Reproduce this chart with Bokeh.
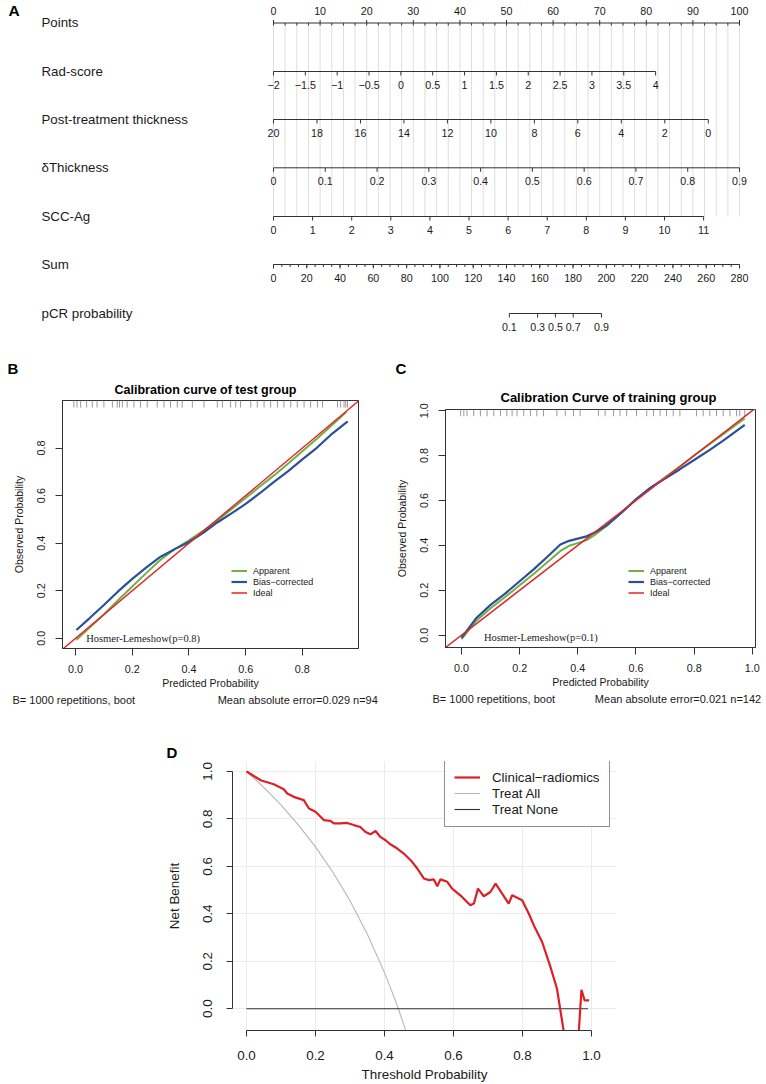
from bokeh.plotting import figure
from bokeh.layouts import column, row
from bokeh.models import Range1d, Legend, LegendItem, FixedTicker, PrintfTickFormatter, Title
from bokeh.core.properties import value
from bokeh.embed import file_html
from bokeh.resources import INLINE

FONT = "Liberation Sans"
SERIF = "Liberation Serif"

# ---------------- Panel A : nomogram data ----------------
points_ticks = [0, 10, 20, 30, 40, 50, 60, 70, 80, 90, 100]
rad_ticks = [-2, -1.5, -1, -0.5, 0, 0.5, 1, 1.5, 2, 2.5, 3, 3.5, 4]
rad_range = [-2, 4]
rad_points = [0, 82.0]
thick_ticks = [20, 18, 16, 14, 12, 10, 8, 6, 4, 2, 0]
thick_range = [20, 0]
thick_points = [0, 93.3]
dthick_ticks = [0, 0.1, 0.2, 0.3, 0.4, 0.5, 0.6, 0.7, 0.8, 0.9]
dthick_range = [0, 0.9]
dthick_points = [0, 100.0]
scc_ticks = [0, 1, 2, 3, 4, 5, 6, 7, 8, 9, 10, 11]
scc_range = [0, 11]
scc_points = [0, 92.3]
sum_ticks = [0, 20, 40, 60, 80, 100, 120, 140, 160, 180, 200, 220, 240, 260, 280]
sum_range = [0, 280]
sum_points = [0, 100.0]
pcr_ticks = [0.1, 0.3, 0.5, 0.7, 0.9]
pcr_total = [141.7, 158.7, 169.4, 180.1, 197.1]

# ---------------- Panel B : calibration, test group ----------------
b_app_x = [0.003, 0.05, 0.1, 0.15, 0.2, 0.25, 0.3, 0.35, 0.4, 0.45, 0.5, 0.55, 0.6, 0.65, 0.7, 0.75, 0.8, 0.85, 0.9, 0.955]
b_app_y = [-0.006, 0.045, 0.1, 0.16, 0.218, 0.275, 0.33, 0.375, 0.412, 0.452, 0.495, 0.543, 0.59, 0.638, 0.685, 0.735, 0.787, 0.838, 0.892, 0.952]
b_bc_x = [0.003, 0.05, 0.1, 0.15, 0.2, 0.25, 0.3, 0.35, 0.4, 0.45, 0.5, 0.55, 0.6, 0.65, 0.7, 0.75, 0.8, 0.85, 0.9, 0.96]
b_bc_y = [0.035, 0.085, 0.14, 0.197, 0.25, 0.298, 0.343, 0.375, 0.405, 0.443, 0.487, 0.525, 0.565, 0.61, 0.658, 0.703, 0.752, 0.8, 0.855, 0.912]
b_rug = [-0.006, 0.005, 0.018, 0.039, 0.059, 0.076, 0.1, 0.13, 0.147, 0.155, 0.165, 0.182, 0.206, 0.229,
         0.253, 0.288, 0.312, 0.335, 0.359, 0.376, 0.412, 0.453, 0.5, 0.518, 0.547, 0.565, 0.582, 0.618,
         0.641, 0.665, 0.688, 0.712, 0.735, 0.759, 0.782, 0.806, 0.829, 0.853, 0.871, 0.924, 0.935, 0.947, 0.953, 0.959]

# ---------------- Panel C : calibration, training group ----------------
c_app_x = [0.0, 0.05, 0.1, 0.15, 0.2, 0.25, 0.3, 0.34, 0.37, 0.4, 0.43, 0.46, 0.5, 0.55, 0.6, 0.65, 0.7, 0.75, 0.8, 0.85, 0.9, 0.974]
c_app_y = [-0.018, 0.063, 0.12, 0.17, 0.222, 0.275, 0.33, 0.375, 0.398, 0.41, 0.423, 0.448, 0.487, 0.545, 0.605, 0.655, 0.703, 0.75, 0.8, 0.848, 0.895, 0.965]
c_bc_x = [0.0, 0.05, 0.1, 0.15, 0.2, 0.25, 0.3, 0.34, 0.37, 0.4, 0.43, 0.46, 0.5, 0.55, 0.6, 0.65, 0.7, 0.75, 0.8, 0.85, 0.9, 0.974]
c_bc_y = [-0.012, 0.075, 0.135, 0.185, 0.24, 0.295, 0.355, 0.404, 0.42, 0.43, 0.44, 0.458, 0.49, 0.545, 0.605, 0.657, 0.697, 0.738, 0.78, 0.822, 0.866, 0.937]
c_rug = [-0.003, 0.008, 0.019, 0.042, 0.065, 0.088, 0.111, 0.134, 0.156, 0.174, 0.191, 0.214, 0.237, 0.259,
         0.282, 0.328, 0.357, 0.385, 0.408, 0.471, 0.494, 0.523, 0.545, 0.568, 0.602, 0.637, 0.66, 0.683,
         0.705, 0.728, 0.751, 0.808, 0.831, 0.854, 0.877, 0.9, 0.923, 0.946, 0.957, 0.974]

# ---------------- Panel D : decision curve ----------------
dca_thr = [0, 0.041, 0.079, 0.108, 0.118, 0.137, 0.166, 0.181, 0.2, 0.224, 0.243, 0.253, 0.272, 0.292,
           0.311, 0.33, 0.345, 0.359, 0.374, 0.388, 0.403, 0.417, 0.437, 0.456, 0.476, 0.495, 0.514,
           0.529, 0.543, 0.553, 0.562, 0.582, 0.596, 0.625, 0.649, 0.659, 0.671, 0.688, 0.707, 0.722,
           0.741, 0.76, 0.77, 0.799, 0.818, 0.833, 0.857, 0.881, 0.9, 0.92, 0.94, 0.955, 0.963, 0.971,
           0.98, 0.993]
dca_model = [1.0, 0.963, 0.946, 0.925, 0.907, 0.893, 0.879, 0.844, 0.83, 0.795, 0.792, 0.781, 0.781, 0.783,
             0.774, 0.766, 0.745, 0.735, 0.749, 0.724, 0.71, 0.693, 0.675, 0.654, 0.626, 0.591, 0.549,
             0.542, 0.545, 0.516, 0.545, 0.535, 0.506, 0.471, 0.436, 0.443, 0.506, 0.474, 0.492, 0.527,
             0.485, 0.443, 0.478, 0.457, 0.401, 0.351, 0.281, 0.176, 0.084, -0.1, -0.3, -0.3, -0.1, 0.08,
             0.035, 0.035]
all_thr = [0, 0.05, 0.1, 0.15, 0.2, 0.25, 0.3, 0.35, 0.4, 0.42, 0.44, 0.46, 0.47]
all_nb = [1.0, 0.933, 0.859, 0.775, 0.682, 0.576, 0.455, 0.315, 0.152, 0.078, 0.0, -0.084, -0.13]
none_thr = [0, 0.99]
none_nb = [0, 0]

TXT = "#1a1a1a"
AX = "#333333"
GREEN = "#72b043"
BLUE = "#2b4f9b"
RED = "#e0262b"
NBSP = "\u00a0"

# =============== Panel A figure ===============
A_H = 336
PX = 4.66      # pixels per point
X0 = 273.0     # pixel of 0 points
pA = figure(width=766, height=A_H, x_range=Range1d(-X0 / PX, (766 - X0) / PX),
            y_range=Range1d(A_H, 0), x_axis_type=None, y_axis_type=None,
            toolbar_location=None, output_backend="svg", min_border=0,
            outline_line_color=None)


def lin(v, r, pts):
    return pts[0] + (v - r[0]) / (r[1] - r[0]) * (pts[1] - pts[0])


def fmt(v):
    return ("%g" % v).replace("-", "\u2212")


Y_PTS, Y_RAD, Y_TH, Y_DT, Y_SCC, Y_SUM, Y_PCR = 22.5, 71, 119, 167.3, 216, 264, 313

gx = [i * 2.5 for i in range(41)]
pA.segment(x0=gx, y0=[Y_PTS] * len(gx), x1=gx, y1=[Y_SCC] * len(gx),
           line_color="#dedede", line_width=1)

row_names = ["Points", "Rad-score", "Post-treatment thickness", "\u03b4Thickness", "SCC-Ag", "Sum", "pCR probability"]
row_ys = [Y_PTS, Y_RAD, Y_TH, Y_DT, Y_SCC, Y_SUM, Y_PCR]
lx = (41 - X0) / PX
pA.text(x=[lx] * len(row_names), y=[y - 0.5 for y in row_ys], text=row_names,
        text_font=value(FONT), text_font_size="13.3px", text_color=TXT,
        text_align="left", text_baseline="middle")
pA.text(x=[(8 - X0) / PX], y=[10], text=["A"], text_font=value(FONT), text_font_size="15.5px",
        text_font_style="bold", text_color="black", text_align="left", text_baseline="middle")


def nomo_axis(y, xs, labels, tick_len=4.0, label_dy=13.5, minor=None):
    pA.segment(x0=[min(xs)], y0=[y], x1=[max(xs)], y1=[y], line_color=AX, line_width=1)
    pA.segment(x0=xs, y0=[y] * len(xs), x1=xs, y1=[y + tick_len] * len(xs), line_color=AX, line_width=1)
    if minor is not None:
        pA.segment(x0=minor, y0=[y] * len(minor), x1=minor, y1=[y + 2.5] * len(minor),
                   line_color=AX, line_width=1)
    pA.text(x=xs, y=[y + label_dy] * len(xs), text=labels, text_font=value(FONT),
            text_font_size="10.7px", text_color=TXT, text_align="center", text_baseline="middle")


pA.segment(x0=[0], y0=[Y_PTS], x1=[100], y1=[Y_PTS], line_color=AX, line_width=1)
pA.segment(x0=gx, y0=[Y_PTS] * len(gx), x1=gx, y1=[Y_PTS + 2.5] * len(gx), line_color=AX)
pA.segment(x0=points_ticks, y0=[Y_PTS] * len(points_ticks), x1=points_ticks,
           y1=[Y_PTS - 3] * len(points_ticks), line_color=AX)
pA.text(x=points_ticks, y=[Y_PTS - 12.5] * len(points_ticks), text=[fmt(v) for v in points_ticks],
        text_font=value(FONT), text_font_size="10.7px", text_color=TXT,
        text_align="center", text_baseline="middle")

nomo_axis(Y_RAD, [lin(v, rad_range, rad_points) for v in rad_ticks], [fmt(v) for v in rad_ticks])
nomo_axis(Y_TH, [lin(v, thick_range, thick_points) for v in thick_ticks], [fmt(v) for v in thick_ticks])
nomo_axis(Y_DT, [lin(v, dthick_range, dthick_points) for v in dthick_ticks], [fmt(v) for v in dthick_ticks])
nomo_axis(Y_SCC, [lin(v, scc_range, scc_points) for v in scc_ticks], [fmt(v) for v in scc_ticks])
sum_minor = [lin(v, sum_range, sum_points) for v in range(0, 281, 5)]
nomo_axis(Y_SUM, [lin(v, sum_range, sum_points) for v in sum_ticks], [fmt(v) for v in sum_ticks],
          minor=sum_minor)
nomo_axis(Y_PCR, [lin(v, sum_range, sum_points) for v in pcr_total], [fmt(v) for v in pcr_ticks])


# =============== Calibration figures ===============
def add_title(p, text, place, offset, standoff, size, bold=False, color=TXT):
    p.add_layout(Title(text=text, align="left", offset=offset, standoff=standoff,
                       text_font=FONT, text_font_size=size,
                       text_font_style="bold" if bold else "normal", text_color=color), place)


def calib(width, height, ml, mr, mt, mb, xr, yr, xticks, yticks, letter, loff, lstand):
    p = figure(width=width, height=height, x_range=Range1d(*xr), y_range=Range1d(*yr),
               toolbar_location=None, output_backend="svg", min_border_left=ml,
               min_border_right=mr, min_border_top=mt, min_border_bottom=mb, title=letter)
    p.title.align = "left"
    p.title.offset = loff
    p.title.standoff = lstand
    p.title.text_font = FONT
    p.title.text_font_size = "15px"
    p.title.text_font_style = "bold"
    p.title.text_color = "black"
    p.grid.visible = False
    p.outline_line_color = AX
    p.outline_line_width = 1
    for ax, ticks in ((p.xaxis[0], xticks), (p.yaxis[0], yticks)):
        ax.ticker = FixedTicker(ticks=ticks)
        ax.formatter = PrintfTickFormatter(format="%.1f")
        ax.major_tick_out = 7
        ax.major_tick_in = 0
        ax.minor_tick_out = 0
        ax.minor_tick_in = 0
        ax.axis_line_color = AX
        ax.major_tick_line_color = AX
        ax.major_label_text_font = FONT
        ax.major_label_text_font_size = "10.8px"
        ax.major_label_text_color = TXT
        ax.axis_label_text_font = FONT
        ax.axis_label_text_font_size = "10.5px"
        ax.axis_label_text_font_style = "normal"
        ax.axis_label_text_color = TXT
    p.xaxis.axis_label = "Predicted Probability"
    p.yaxis.axis_label = "Observed Probability"
    p.yaxis.major_label_orientation = "vertical"
    p.xaxis.major_label_standoff = 9
    p.yaxis.major_label_standoff = 10
    p.xaxis.axis_label_standoff = 1
    p.yaxis.axis_label_standoff = 10
    return p


def calib_content(p, app_x, app_y, bc_x, bc_y, rug, legend_loc, hl_text, hl_loc):
    xr, yr = p.x_range, p.y_range
    top = yr.end
    p.segment(x0=rug, y0=[top] * len(rug), x1=rug, y1=[top - 0.03] * len(rug),
              line_color="#9a9a9a", line_width=1)
    ra = p.line(app_x, app_y, line_color=GREEN, line_width=2)
    rb = p.line(bc_x, bc_y, line_color=BLUE, line_width=2.2)
    ends = [xr.start, xr.end]
    ri = p.line(ends, ends, line_color=RED, line_width=1.5)
    p.text(x=[hl_loc[0]], y=[hl_loc[1]], text=[hl_text], text_font=value(SERIF),
           text_font_size="10.5px", text_color=TXT, text_align="left", text_baseline="middle")
    leg = Legend(items=[LegendItem(label="Apparent", renderers=[ra]),
                        LegendItem(label="Bias\u2212corrected", renderers=[rb]),
                        LegendItem(label="Ideal", renderers=[ri])],
                 location=legend_loc)
    leg.background_fill_alpha = 0
    leg.border_line_color = None
    leg.label_text_font = FONT
    leg.label_text_font_size = "9px"
    leg.label_text_color = TXT
    leg.glyph_width = 16
    leg.glyph_height = 11
    leg.label_height = 11
    leg.label_standoff = 6
    leg.padding = 0
    leg.spacing = 0
    leg.margin = 0
    p.add_layout(leg)


# Panel B  (frame: x 62..358, y 400..648 in page pixels)
pB = calib(383, 376, 62, 25, 64, 64, (-0.046, 0.998), (-0.043, 1.0),
           [0, 0.2, 0.4, 0.6, 0.8], [0, 0.2, 0.4, 0.6, 0.8], "B", -55, 1.5)
calib_content(pB, b_app_x, b_app_y, b_bc_x, b_bc_y, b_rug, (169, 50),
              "Hosmer-Lemeshow(p=0.8)", (0.0374, 0.0))
add_title(pB, "Calibration curve of test group", "above", 52, 6.5, "12.5px", bold=True, color="black")
add_title(pB, "B= 1000 repetitions, boot" + NBSP * 27 + "Mean absolute error=0.029 n=94",
          "below", -50, 1, "11px")

# Panel C  (frame: x 445..755, y 409..647 in page pixels)
pC = calib(383, 376, 62, 11, 73, 65, (-0.055, 1.011), (-0.055, 1.005),
           [0, 0.2, 0.4, 0.6, 0.8, 1.0], [0, 0.2, 0.4, 0.6, 0.8, 1.0], "C", -50, 13.5)
calib_content(pC, c_app_x, c_app_y, c_bc_x, c_bc_y, c_rug, (183, 49),
              "Hosmer-Lemeshow(p=0.1)", (0.0772, -0.01))
add_title(pC, "Calibration Curve of training group", "above", 55, 9, "13px", bold=True, color="black")
add_title(pC, "B= 1000 repetitions, boot" + NBSP * 13 + "Mean absolute error=0.021 n=142",
          "below", -13, 1, "11px")

# =============== Panel D ===============
pD = figure(width=766, height=372, x_range=Range1d(-0.0406, 1.0725), y_range=Range1d(-0.092, 1.042),
            toolbar_location=None, output_backend="svg", min_border_left=232,
            min_border_right=150, min_border_top=49, min_border_bottom=54)
pD.outline_line_color = None
dticks = [0, 0.2, 0.4, 0.6, 0.8, 1.0]
for ax in (pD.xaxis[0], pD.yaxis[0]):
    ax.ticker = FixedTicker(ticks=dticks)
    ax.formatter = PrintfTickFormatter(format="%.1f")
    ax.bounds = (0, 1)
    ax.major_tick_out = 6
    ax.major_tick_in = 0
    ax.minor_tick_out = 0
    ax.minor_tick_in = 0
    ax.axis_line_color = AX
    ax.major_tick_line_color = AX
    ax.major_label_text_font = FONT
    ax.major_label_text_font_size = "13.4px"
    ax.major_label_text_color = TXT
    ax.axis_label_text_font = FONT
    ax.axis_label_text_font_size = "13.4px"
    ax.axis_label_text_font_style = "normal"
    ax.axis_label_text_color = TXT
pD.xaxis.axis_label = "Threshold Probability"
pD.yaxis.axis_label = "Net Benefit"
pD.yaxis.major_label_orientation = "vertical"
pD.xaxis.major_label_standoff = 14
pD.yaxis.major_label_standoff = 14
pD.xaxis.axis_label_standoff = 4
pD.yaxis.axis_label_standoff = 19
pD.xgrid.grid_line_color = "#ebebeb"
pD.ygrid.grid_line_color = "#ebebeb"

r_all = pD.line(all_thr, all_nb, line_color="#b5b5b5", line_width=1.1)
r_none = pD.line(none_thr, none_nb, line_color="#333333", line_width=1.1)
r_mod = pD.line(dca_thr, dca_model, line_color="#dd1f26", line_width=2.2)
dleg = Legend(items=[LegendItem(label="Clinical\u2212radiomics", renderers=[r_mod]),
                     LegendItem(label="Treat All", renderers=[r_all]),
                     LegendItem(label="Treat None", renderers=[r_none])],
              location=(212, 203))
dleg.border_line_color = "#222222"
dleg.border_line_width = 1
dleg.background_fill_color = "white"
dleg.background_fill_alpha = 1
dleg.label_text_font = FONT
dleg.label_text_font_size = "13.3px"
dleg.label_text_color = TXT
dleg.glyph_width = 26
dleg.glyph_height = 16
dleg.label_height = 16
dleg.label_standoff = 12
dleg.padding = 9
dleg.spacing = 0
dleg.margin = 0
pD.add_layout(dleg)
add_title(pD, "D", "above", -66, 2, "15px", bold=True, color="black")

layout = column(row(pA), row(column(pB), column(pC)), row(pD))
open("out.html", "w").write(file_html(layout, INLINE))
